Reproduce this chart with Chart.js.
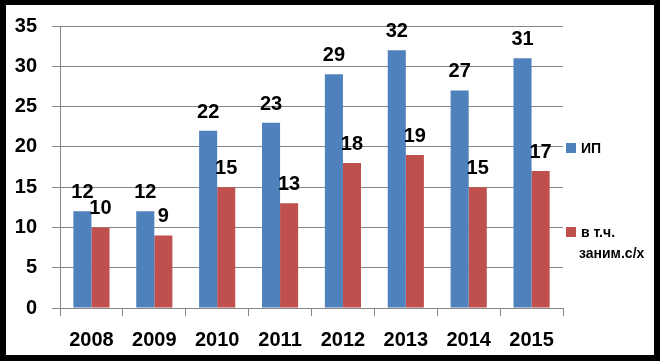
<!DOCTYPE html>
<html>
<head>
<meta charset="utf-8">
<script src="https://cdn.jsdelivr.net/npm/chart.js@4.4.0/dist/chart.umd.min.js"></script>
<style>
  html, body { margin: 0; padding: 0; background: #000; }
  #frame {
    position: absolute; left: 6px; top: 5px;
    width: 648px; height: 350px;
    background: #fff;
  }
  canvas { display: block; }
</style>
</head>
<body>
<div id="frame"><canvas id="chart" width="648" height="350"></canvas></div>
<script>
// chart data
const years = ['2008', '2009', '2010', '2011', '2012', '2013', '2014', '2015'];
const ipValues = [12, 12, 22, 23, 29, 32, 27, 31];
const agroValues = [10, 9, 15, 13, 18, 19, 15, 17];
const seriesNames = ['ИП', ['в т.ч.', 'заним.с/х']];
const yTicks = [0, 5, 10, 15, 20, 25, 30, 35];

const blue = '#4F81BD';
const red = '#C0504D';
const gridColor = '#868686';
const font = 'Liberation Sans, Arial, sans-serif';

// value labels above each bar
const barLabels = {
    id: 'barLabels',
    afterDatasetsDraw(chart) {
        const ctx = chart.ctx;
        ctx.save();
        ctx.fillStyle = '#000';
        ctx.font = 'bold 20px ' + font;
        ctx.textAlign = 'center';
        ctx.textBaseline = 'alphabetic';
        chart.data.datasets.forEach((ds, i) => {
            chart.getDatasetMeta(i).data.forEach((bar, j) => {
                ctx.fillText(ds.data[j], bar.x, bar.y - 13);
            });
        });
        ctx.restore();
    }
};

// legend on the right, drawn by hand
const sideLegend = {
    id: 'sideLegend',
    afterDraw(chart) {
        const ctx = chart.ctx;
        const x = chart.chartArea.right + 3;
        const rows = [
            { color: blue, y: 143, text: seriesNames[0] },
            { color: red, y: 227, text: seriesNames[1] }
        ];
        ctx.save();
        ctx.font = 'bold 14px ' + font;
        ctx.textBaseline = 'middle';
        ctx.textAlign = 'left';
        rows.forEach(r => {
            ctx.fillStyle = r.color;
            ctx.fillRect(x, r.y - 5, 10, 10);
            ctx.fillStyle = '#000';
            const lines = Array.isArray(r.text) ? r.text : [r.text];
            lines.forEach((line, k) => {
                ctx.fillText(line, x + 15 - (k > 0 ? 2 : 0), r.y + 1 + k * 21);
            });
        });
        ctx.restore();
    }
};

new Chart(document.getElementById('chart'), {
    type: 'bar',
    data: {
        labels: years,
        datasets: [
            { label: 'ИП', data: ipValues, backgroundColor: blue },
            { label: 'в т.ч. заним.с/х', data: agroValues, backgroundColor: red }
        ]
    },
    options: {
        responsive: false,
        animation: false,
        categoryPercentage: 0.575,
        barPercentage: 1.0,
        layout: { padding: { top: 21, right: 91, bottom: 0, left: 0 } },
        plugins: {
            legend: { display: false },
            tooltip: { enabled: false }
        },
        scales: {
            x: {
                grid: {
                    offset: true,
                    drawOnChartArea: false,
                    drawTicks: true,
                    tickLength: 8,
                    color: gridColor
                },
                border: { color: gridColor },
                ticks: {
                    color: '#000',
                    padding: 12,
                    font: { family: font, size: 20, weight: 'bold' }
                },
                afterFit(scale) { scale.height = 47; }
            },
            y: {
                min: 0,
                max: 35,
                afterBuildTicks(scale) {
                    scale.ticks = yTicks.map(v => ({ value: v }));
                },
                grid: { color: gridColor, tickLength: 8 },
                border: { color: gridColor },
                ticks: {
                    color: '#000',
                    padding: 15,
                    font: { family: font, size: 20, weight: 'bold' }
                },
                afterFit(scale) {
                    scale.width = 54;
                    scale.paddingTop = 0;
                    scale.paddingBottom = 0;
                }
            }
        }
    },
    plugins: [barLabels, sideLegend]
});
</script>
</body>
</html>
